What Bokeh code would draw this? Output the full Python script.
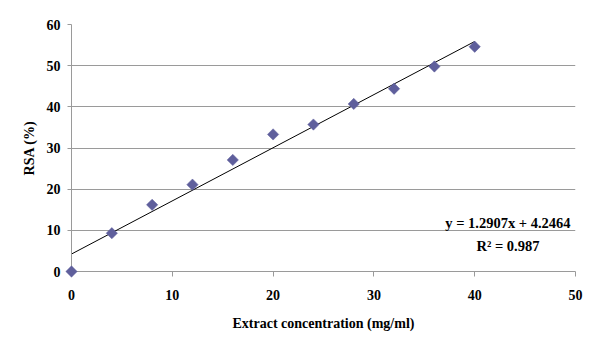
import math
from bokeh.plotting import figure
from bokeh.models import FixedTicker, Range1d
from bokeh.core.properties import value
from bokeh.embed import file_html
from bokeh.resources import INLINE

# ---- data ----
concentration = [0, 4, 8, 12, 16, 20, 24, 28, 32, 36, 40]
rsa = [0.0, 9.3, 16.2, 21.1, 27.1, 33.3, 35.7, 40.7, 44.4, 49.8, 54.6]
x_ticks = [0, 10, 20, 30, 40, 50]
y_ticks = [0, 10, 20, 30, 40, 50, 60]
slope = 1.2907
intercept = 4.2464
r_squared = 0.987
eq_text = "y = 1.2907x + 4.2464"
r2_text = "R\u00b2 = 0.987"
x_title = "Extract concentration (mg/ml)"
y_title = "RSA (%)"

FONT = "Liberation Serif"
GRID = "#9a9a9a"

p = figure(
    frame_width=504, frame_height=247,
    x_range=Range1d(x_ticks[0], x_ticks[-1]), y_range=Range1d(y_ticks[0], y_ticks[-1]),
    output_backend="svg", toolbar_location=None,
    min_border_left=63, min_border_top=12, min_border_right=16, min_border_bottom=69,
)
p.styles = {"margin-left": "8px", "margin-top": "12px"}
p.outline_line_color = None
p.background_fill_color = "white"
p.border_fill_color = "white"

p.xgrid.visible = False
p.ygrid.grid_line_color = GRID
p.ygrid.grid_line_width = 1
p.ygrid.ticker = FixedTicker(ticks=y_ticks)

for ax in (p.xaxis[0], p.yaxis[0]):
    ax.axis_line_color = GRID
    ax.major_tick_line_color = GRID
    ax.minor_tick_line_color = None
    ax.major_tick_in = 0
    ax.major_label_text_font = FONT
    ax.major_label_text_font_style = "bold"
    ax.major_label_text_font_size = "14px"
    ax.major_label_text_color = "black"
    ax.axis_label_text_font = FONT
    ax.axis_label_text_font_style = "bold"
    ax.axis_label_text_font_size = "14px"
    ax.axis_label_text_color = "black"

p.xaxis.ticker = FixedTicker(ticks=x_ticks)
p.yaxis.ticker = FixedTicker(ticks=y_ticks)
p.xaxis.major_tick_out = 5
p.yaxis.major_tick_out = 4
p.xaxis.major_label_standoff = 13
p.yaxis.major_label_standoff = 7
p.xaxis.axis_label = x_title
p.yaxis.axis_label = y_title
p.xaxis.axis_label_standoff = 13
p.yaxis.axis_label_standoff = 7

# trend line
fit_x = [concentration[0], concentration[-1]]
fit_y = [slope * v + intercept for v in fit_x]
p.line(fit_x, fit_y, line_color="black", line_width=1)

# data points (diamonds); overlay level so the point at the origin is not cut by the frame
p.scatter(concentration, rsa, marker="square", angle=math.pi / 4, size=8,
          fill_color="#5f5f9c", line_color="#5f5f9c", line_width=0.5, level="overlay")

# equation text
p.text(x=[43.3], y=[11.9], text=[eq_text], text_align="center", text_baseline="alphabetic",
       text_font=value(FONT), text_font_style="bold", text_font_size="14.5px", text_color="black")
p.text(x=[43.3], y=[6.2], text=[r2_text], text_align="center", text_baseline="alphabetic",
       text_font=value(FONT), text_font_style="bold", text_font_size="14.5px", text_color="black")

open("out.html", "w").write(file_html(p, INLINE))
